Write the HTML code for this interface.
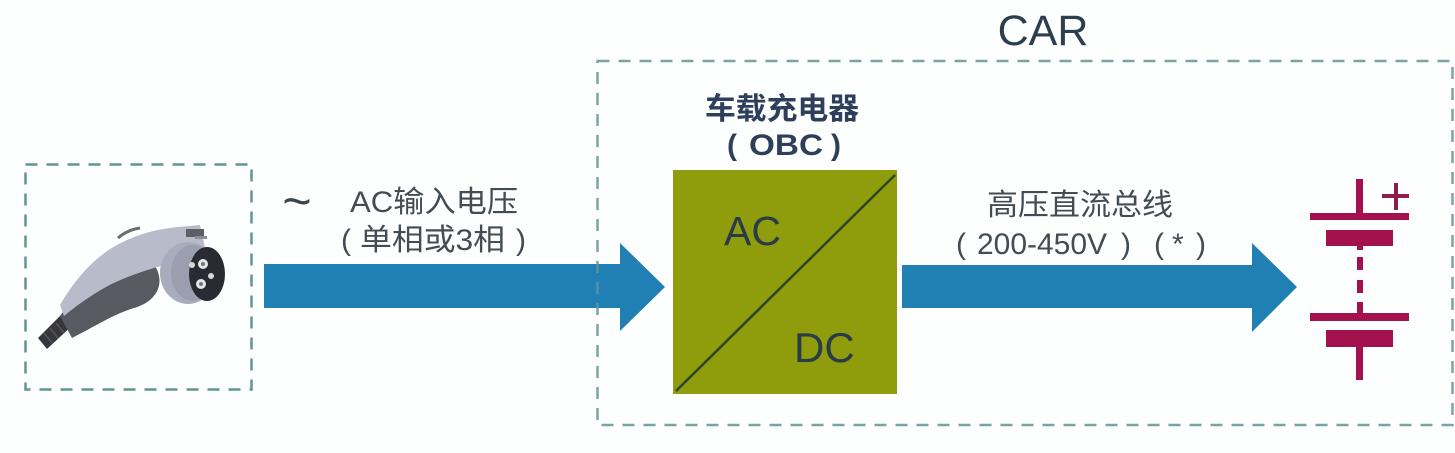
<!DOCTYPE html>
<html>
<head>
<meta charset="utf-8">
<style>
html,body{margin:0;padding:0;background:#fdfefe;}
svg{display:block;}
text{font-family:"Liberation Sans","Noto Sans CJK SC",sans-serif;}
</style>
</head>
<body>
<svg width="1455" height="453" viewBox="0 0 1455 453" xmlns="http://www.w3.org/2000/svg">
<rect x="0" y="0" width="1455" height="453" fill="#fdfefe"/>

<!-- Left dashed box -->
<rect x="25.5" y="164.5" width="226" height="225" fill="none" stroke="#5f9692" stroke-width="2.5" stroke-dasharray="12 9"/>

<!-- Plug -->
<g>
  <path d="M38,338 L47,349 L74,324 L64,312 Z" fill="#36363c"/>
  <g stroke="#55555c" stroke-width="1.5">
    <line x1="44" y1="333" x2="52" y2="343"/>
    <line x1="50" y1="328" x2="58" y2="338"/>
    <line x1="56" y1="323" x2="64" y2="333"/>
    <line x1="62" y1="318" x2="70" y2="328"/>
  </g>
  <path d="M60,316 C72,298 92,286 118,278 L155,266 C166,284 156,302 134,308 C112,315 96,326 72,338 Z" fill="#585961"/>
  <path d="M60,305 C78,274 100,252 125,241 C142,233 158,229 178,227 L200,225 L206,252 L176,262 C152,268 126,276 106,287 C90,296 76,306 64,316 Z" fill="#b8bbc9"/>
  <path d="M118,238 C125,232 133,229 140,228" stroke="#6a6b73" stroke-width="3" fill="none"/>
  <rect x="186" y="229" width="18" height="8" fill="#5d5e66"/>
  <rect x="195" y="236" width="12" height="3" fill="#8b8c95"/>
  <ellipse cx="188" cy="273" rx="28" ry="31" fill="#a8acbc"/>
  <ellipse cx="193" cy="273" rx="22" ry="28" fill="#9a9eae"/>
  <ellipse cx="207" cy="274" rx="18" ry="27" fill="#2a2a32"/>
  <circle cx="203" cy="264" r="5" fill="#e6e6ea"/><circle cx="203" cy="264" r="2" fill="#777"/>
  <circle cx="201" cy="284" r="5" fill="#e6e6ea"/><circle cx="201" cy="284" r="2" fill="#777"/>
  <circle cx="211" cy="276" r="3" fill="#d8d8de"/>
  <circle cx="192" cy="265" r="3" fill="#d8d8de"/>
</g>

<!-- Left arrow -->
<polygon points="264,264 620,264 620,243 665,287 620,331 620,308 264,308" fill="#2080b4"/>

<!-- Car dashed box -->
<rect x="597.5" y="61" width="855" height="364" fill="none" stroke="#5f9692" stroke-width="2.5" stroke-dasharray="12 9" opacity="0.85"/>

<!-- Right arrow -->
<polygon points="902,265 1252,265 1252,243 1297,287 1252,332 1252,308 902,308" fill="#2080b4"/>

<!-- OBC box -->
<rect x="673" y="170" width="224" height="224" fill="#8f9c0c"/>
<line x1="676" y1="391" x2="895" y2="175" stroke="#2b4628" stroke-width="2.5"/>
<text x="724" y="245" font-size="41" fill="#2a3b48">AC</text>
<text x="794" y="362" font-size="42" fill="#2a3b48">DC</text>

<!-- OBC title -->
<text x="705" y="119" font-size="30" font-weight="bold" fill="#2d3f5a" textLength="154" lengthAdjust="spacingAndGlyphs">车载充电器</text>
<g font-size="30" font-weight="bold" fill="#2d3f5a">
  <text x="727" y="155">(</text>
  <text x="749" y="155" textLength="74" lengthAdjust="spacingAndGlyphs">OBC</text>
  <text x="831" y="155">)</text>
</g>

<!-- CAR -->
<text x="1043" y="45" font-size="43" fill="#2d3e4f" text-anchor="middle">CAR</text>

<!-- Left labels -->
<text x="297" y="218" font-size="50" fill="#3c454c" text-anchor="middle">~</text>
<text x="350" y="212" font-size="30" fill="#444c53" textLength="168" lengthAdjust="spacingAndGlyphs">AC输入电压</text>
<g font-size="30" fill="#444c53">
  <text x="341" y="250">(</text>
  <text x="360" y="250" textLength="145" lengthAdjust="spacingAndGlyphs">单相或3相</text>
  <text x="516" y="250">)</text>
</g>

<!-- Right labels -->
<text x="987" y="215" font-size="30" fill="#444c53" textLength="186" lengthAdjust="spacingAndGlyphs">高压直流总线</text>
<g font-size="30" fill="#444c53">
  <text x="956" y="254">(</text>
  <text x="977" y="254" textLength="130" lengthAdjust="spacingAndGlyphs">200-450V</text>
  <text x="1121" y="254">)</text>
  <text x="1154" y="254">(</text>
  <text x="1172" y="254">*</text>
  <text x="1196" y="254">)</text>
</g>

<!-- Battery -->
<g fill="#a3124f">
  <rect x="1356" y="179" width="7" height="36"/>
  <rect x="1310" y="213" width="99" height="7"/>
  <rect x="1326" y="230" width="67" height="16"/>
  <rect x="1357" y="246" width="6" height="4"/>
  <rect x="1357" y="257" width="6" height="13"/>
  <rect x="1357" y="280" width="6" height="13"/>
  <rect x="1357" y="302" width="6" height="12"/>
  <rect x="1310" y="313" width="99" height="8"/>
  <rect x="1326" y="330" width="67" height="17"/>
  <rect x="1356" y="347" width="7" height="33"/>
</g>
<g fill="#8e1c4c">
  <rect x="1382" y="194" width="27" height="4"/>
  <rect x="1394" y="183" width="4" height="27"/>
</g>
</svg>
</body>
</html>
